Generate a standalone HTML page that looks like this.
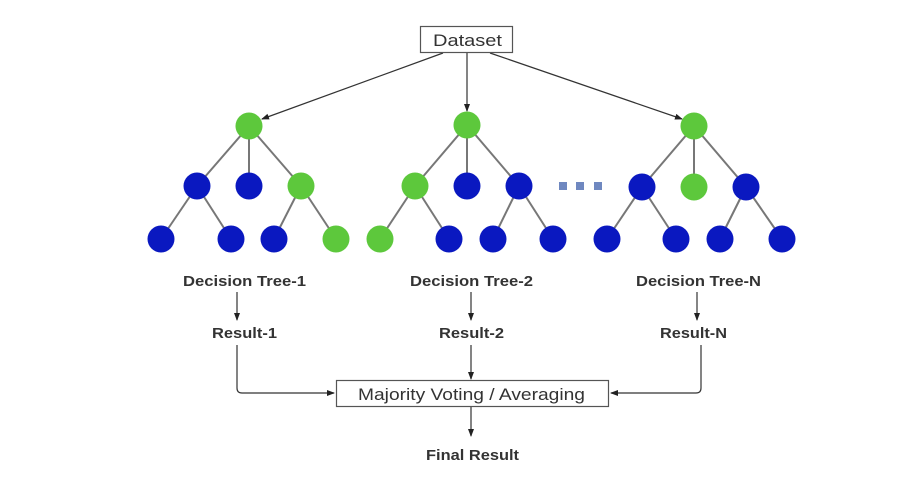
<!DOCTYPE html>
<html><head><meta charset="utf-8"><style>
html,body{margin:0;padding:0;background:#fff;}
svg{display:block;}
text{font-family:"Liberation Sans",Arial,sans-serif;}
</style></head><body>
<svg width="910" height="488" viewBox="0 0 910 488" xmlns="http://www.w3.org/2000/svg">
<defs>
<marker id="a" markerWidth="8" markerHeight="8" refX="7" refY="4" orient="auto" markerUnits="userSpaceOnUse">
<path d="M0,1 L8,4 L0,7 Z" fill="#222"/></marker>
</defs>
<g stroke="#333" stroke-width="1.2" fill="none">
<line x1="443" y1="53" x2="262" y2="119" marker-end="url(#a)"/>
<line x1="467" y1="53" x2="467" y2="111" marker-end="url(#a)"/>
<line x1="490" y1="53" x2="682" y2="119" marker-end="url(#a)"/>
<line x1="237" y1="292" x2="237" y2="320" marker-end="url(#a)"/>
<line x1="471" y1="292" x2="471" y2="320" marker-end="url(#a)"/>
<line x1="697" y1="292" x2="697" y2="320" marker-end="url(#a)"/>
<path d="M237,345 V388 Q237,393 242,393 H334" marker-end="url(#a)"/>
<line x1="471" y1="345" x2="471" y2="379" marker-end="url(#a)"/>
<path d="M701,345 V388 Q701,393 696,393 H611" marker-end="url(#a)"/>
<line x1="471" y1="406" x2="471" y2="436" marker-end="url(#a)"/>
</g>
<g stroke="#777" stroke-width="2">
<line x1="249" y1="126" x2="197" y2="186"/><line x1="249" y1="126" x2="249" y2="186"/><line x1="249" y1="126" x2="301" y2="186"/>
<line x1="197" y1="186" x2="161" y2="239"/><line x1="197" y1="186" x2="231" y2="239"/>
<line x1="301" y1="186" x2="274" y2="239"/><line x1="301" y1="186" x2="336" y2="239"/>
<line x1="467" y1="125" x2="415" y2="186"/><line x1="467" y1="125" x2="467" y2="186"/><line x1="467" y1="125" x2="519" y2="186"/>
<line x1="415" y1="186" x2="380" y2="239"/><line x1="415" y1="186" x2="449" y2="239"/>
<line x1="519" y1="186" x2="493" y2="239"/><line x1="519" y1="186" x2="553" y2="239"/>
<line x1="694" y1="126" x2="642" y2="187"/><line x1="694" y1="126" x2="694" y2="187"/><line x1="694" y1="126" x2="746" y2="187"/>
<line x1="642" y1="187" x2="607" y2="239"/><line x1="642" y1="187" x2="676" y2="239"/>
<line x1="746" y1="187" x2="720" y2="239"/><line x1="746" y1="187" x2="782" y2="239"/>
</g>
<g fill="#5dc83c">
<circle cx="249" cy="126" r="13.5"/><circle cx="301" cy="186" r="13.5"/><circle cx="336" cy="239" r="13.5"/>
<circle cx="467" cy="125" r="13.5"/><circle cx="415" cy="186" r="13.5"/><circle cx="380" cy="239" r="13.5"/>
<circle cx="694" cy="126" r="13.5"/><circle cx="694" cy="187" r="13.5"/>
</g>
<g fill="#0a18c0">
<circle cx="197" cy="186" r="13.5"/><circle cx="249" cy="186" r="13.5"/>
<circle cx="161" cy="239" r="13.5"/><circle cx="231" cy="239" r="13.5"/><circle cx="274" cy="239" r="13.5"/>
<circle cx="467" cy="186" r="13.5"/><circle cx="519" cy="186" r="13.5"/>
<circle cx="449" cy="239" r="13.5"/><circle cx="493" cy="239" r="13.5"/><circle cx="553" cy="239" r="13.5"/>
<circle cx="642" cy="187" r="13.5"/><circle cx="746" cy="187" r="13.5"/>
<circle cx="607" cy="239" r="13.5"/><circle cx="676" cy="239" r="13.5"/><circle cx="720" cy="239" r="13.5"/><circle cx="782" cy="239" r="13.5"/>
</g>
<g fill="#6f88c0">
<rect x="559" y="182" width="8" height="8"/><rect x="576" y="182" width="8" height="8"/><rect x="594" y="182" width="8" height="8"/>
</g>
<rect x="420.5" y="26.5" width="92" height="26" fill="#fff" stroke="#555" stroke-width="1.2"/>
<text x="433" y="46" font-size="17" fill="#333" textLength="69" lengthAdjust="spacingAndGlyphs">Dataset</text>
<rect x="336.5" y="380.5" width="272" height="26" fill="#fff" stroke="#555" stroke-width="1.2"/>
<text x="358" y="400" font-size="17" fill="#333" textLength="227" lengthAdjust="spacingAndGlyphs">Majority Voting / Averaging</text>
<g font-size="14.5" font-weight="bold" fill="#333">
<text x="183" y="286" textLength="123" lengthAdjust="spacingAndGlyphs">Decision Tree-1</text>
<text x="410" y="286" textLength="123" lengthAdjust="spacingAndGlyphs">Decision Tree-2</text>
<text x="636" y="286" textLength="125" lengthAdjust="spacingAndGlyphs">Decision Tree-N</text>
<text x="212" y="338" textLength="65" lengthAdjust="spacingAndGlyphs">Result-1</text>
<text x="439" y="338" textLength="65" lengthAdjust="spacingAndGlyphs">Result-2</text>
<text x="660" y="338" textLength="67" lengthAdjust="spacingAndGlyphs">Result-N</text>
<text x="426" y="460" textLength="93" lengthAdjust="spacingAndGlyphs">Final Result</text>
</g>
</svg>
</body></html>
